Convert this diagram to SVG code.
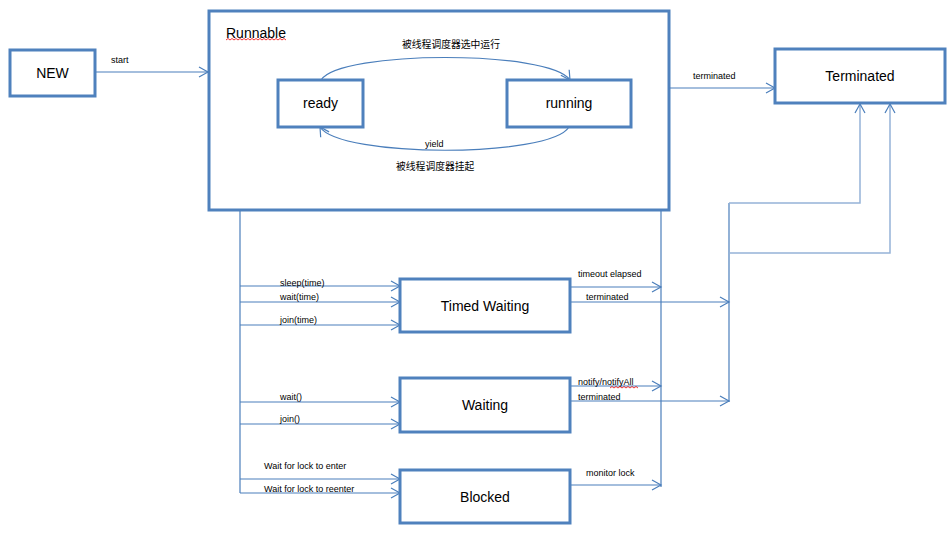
<svg xmlns="http://www.w3.org/2000/svg" width="949" height="535" viewBox="0 0 949 535">
<style>
.box{fill:#fff;stroke:#4f81bd;stroke-width:3}
.frame{fill:none;stroke:#4f81bd;stroke-width:3}
.ln{fill:none;stroke:#4a7ebb;stroke-width:1.2}
.lt{fill:none;stroke:#95b3d7;stroke-width:1.5}
.nt{font-family:"Liberation Sans","Open Sans",sans-serif;font-size:14px;fill:#000;text-anchor:middle}
.lb{font-family:"Liberation Sans","Noto Sans CJK SC",sans-serif;font-size:9px;fill:#000}
.cj{font-family:"Noto Sans CJK SC",sans-serif;font-size:9.8px;fill:#000}
.sq{fill:none;stroke:#e00;stroke-width:0.8}
</style>
<defs>
<marker id="a" markerUnits="userSpaceOnUse" markerWidth="12" markerHeight="12" refX="9" refY="5" orient="auto" overflow="visible">
<path d="M0,0 L9,5 L0,10" fill="none" stroke="#4a7ebb" stroke-width="1.2"/>
</marker>
</defs>
<g id="runnable">
<rect class="frame" x="209" y="11" width="460" height="199"/>
<text class="nt" x="226" y="38" style="text-anchor:start">Runnable</text>
<path class="sq" d="M226,40 l2,-1.5 2,1.5 2,-1.5 2,1.5 2,-1.5 2,1.5 2,-1.5 2,1.5 2,-1.5 2,1.5 2,-1.5 2,1.5 2,-1.5 2,1.5 2,-1.5 2,1.5 2,-1.5 2,1.5 2,-1.5 2,1.5 2,-1.5 2,1.5 2,-1.5 2,1.5 2,-1.5 2,1.5 2,-1.5 2,1.5 2,-1.5 2,1.5"/>
</g>
<g id="connectors">
<path class="ln" d="M95,72 H208" marker-end="url(#a)"/>
<path class="ln" d="M321,80 C340,50 550,50 570,80" marker-end="url(#a)"/>
<path class="ln" d="M569,127 C550,158 340,158 320,127" marker-end="url(#a)"/>
<path class="ln" d="M669,88 H775" marker-end="url(#a)"/>
<path class="ln" d="M240,211 V493"/>
<path class="ln" d="M240,286 H400" marker-end="url(#a)"/>
<path class="ln" d="M240,302 H400" marker-end="url(#a)"/>
<path class="ln" d="M240,325 H400" marker-end="url(#a)"/>
<path class="ln" d="M240,402 H400" marker-end="url(#a)"/>
<path class="ln" d="M240,424 H400" marker-end="url(#a)"/>
<path class="ln" d="M240,479 H400" marker-end="url(#a)"/>
<path class="ln" d="M240,493 H400" marker-end="url(#a)"/>
<path class="ln" d="M661,211 V487"/>
<path class="ln" d="M570,287 H661" marker-end="url(#a)"/>
<path class="ln" d="M570,386 H661" marker-end="url(#a)"/>
<path class="ln" d="M570,485 H661" marker-end="url(#a)"/>
<path class="ln" d="M570,302 H729" marker-end="url(#a)"/>
<path class="ln" d="M570,401 H729" marker-end="url(#a)"/>
<path class="ln" d="M729,203 V402"/>
<path class="lt" d="M729,203 H860 V104" marker-end="url(#a)"/>
<path class="lt" d="M729,253 H890 V104" marker-end="url(#a)"/>
</g>
<g id="labels">
<text class="lb" x="111" y="63">start</text>
<text class="cj" x="402" y="48">被线程调度器选中运行</text>
<text class="lb" x="425" y="147">yield</text>
<text class="cj" x="396" y="170">被线程调度器挂起</text>
<text class="lb" x="693" y="79">terminated</text>
<text class="lb" x="280" y="286">sleep(time)</text>
<text class="lb" x="280" y="300">wait(time)</text>
<text class="lb" x="280" y="323">join(time)</text>
<text class="lb" x="578" y="277">timeout elapsed</text>
<text class="lb" x="586" y="300">terminated</text>
<text class="lb" x="280" y="400">wait()</text>
<text class="lb" x="280" y="422">join()</text>
<text class="lb" x="578" y="385">notify/notifyAll</text>
<path class="sq" d="M610,388 l2,-1.5 2,1.5 2,-1.5 2,1.5 2,-1.5 2,1.5 2,-1.5 2,1.5 2,-1.5 2,1.5 2,-1.5 2,1.5 2,-1.5 2,1.5"/>
<text class="lb" x="578" y="400">terminated</text>
<text class="lb" x="264" y="469">Wait for lock to enter</text>
<text class="lb" x="264" y="492">Wait for lock to reenter</text>
<text class="lb" x="586" y="476">monitor lock</text>
</g>
<g id="new"><rect class="box" x="10" y="50" width="85" height="46"/><text class="nt" x="52.5" y="78">NEW</text></g>
<g id="ready"><rect class="box" x="278" y="80" width="85" height="47"/><text class="nt" x="320.5" y="108">ready</text></g>
<g id="running"><rect class="box" x="507" y="80" width="124" height="47"/><text class="nt" x="569" y="108">running</text></g>
<g id="terminated"><rect class="box" x="775" y="49" width="170" height="54"/><text class="nt" x="860" y="81">Terminated</text></g>
<g id="timed-waiting"><rect class="box" x="400" y="279" width="170" height="53"/><text class="nt" x="485" y="311">Timed Waiting</text></g>
<g id="waiting"><rect class="box" x="400" y="378" width="170" height="54"/><text class="nt" x="485" y="410">Waiting</text></g>
<g id="blocked"><rect class="box" x="400" y="470" width="170" height="53"/><text class="nt" x="485" y="502">Blocked</text></g>
</svg>
